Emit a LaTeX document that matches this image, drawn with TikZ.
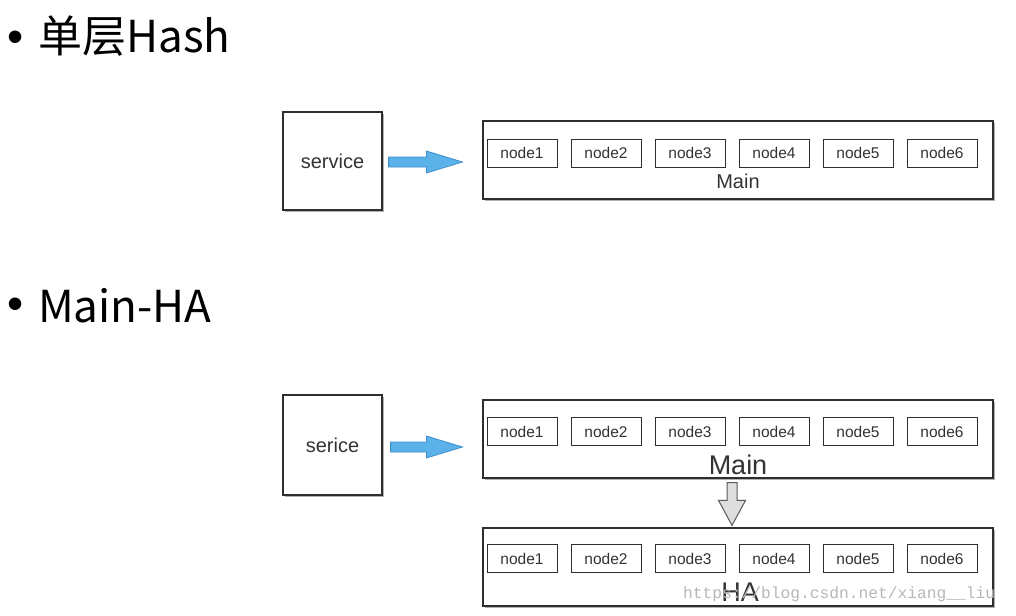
\documentclass[tikz,border=0pt]{standalone}
\usepackage{fontspec}
\setmainfont{Liberation Sans}
\newfontfamily\cjk{Noto Sans CJK SC}
\newfontfamily\wmfont{Liberation Mono}
\usetikzlibrary{calc,shadows}
\definecolor{txt}{HTML}{333333}
\definecolor{edge}{HTML}{2E2E2E}
\definecolor{arrblue}{HTML}{5AB2E8}
\definecolor{arrblueline}{HTML}{3D8FCF}
\begin{document}
\begin{tikzpicture}[x=1pt,y=-1pt,
  box/.style={draw=edge,line width=1.2pt,fill=white,inner sep=0pt,
    drop shadow={shadow xshift=1.5pt,shadow yshift=-2pt,fill=black,opacity=0.3}},
  nodebox/.style={draw=edge,line width=1pt,fill=white,inner sep=0pt,
    minimum width=70pt,minimum height=28pt,text=txt,
    font=\fontsize{15.5}{16}\selectfont},
  header/.style={inner sep=0pt,anchor=base west,text=black,
    font=\cjk\fontsize{44}{50}\selectfont},
  bul/.style={inner sep=0pt,text=black,font=\fontsize{46}{46}\selectfont},
  blockarr/.style={fill=arrblue,draw=arrblueline,line width=0.8pt,line join=miter},
  grayarr/.style={fill=black!13,draw=black!65,line width=1pt,line join=miter}]
\useasboundingbox[fill=white] (0,0) rectangle (1016,615);

% headers
\node[bul] (b1) at (15.5,42) {•};
\node[header] (h1) at (38,53) {单层Hash};
\node[bul] (b2) at (15.5,309) {•};
\node[header] (h2) at (38,322) {Main-HA};

% ===== top section =====
\node[box,minimum width=99pt,minimum height=98pt,text=txt,
  font=\fontsize{20}{22}\selectfont] (svc) at (332.5,161) {service};
\node[box,minimum width=510pt,minimum height=78pt] (main) at (738,160) {};
\foreach \k in {1,...,6}{
  \node[nodebox] (m\k) at ({522+84*(\k-1)},153) {node\k};
}
\node[inner sep=0pt,text=txt,font=\fontsize{20}{22}\selectfont] (mainlbl) at (738,181) {Main};

\coordinate (as) at ($(svc.east)+(6,1)$);
\coordinate (at) at ($(main.west)+(-20,2)$);
\draw[blockarr] ($(as)+(0,-5)$) -- ($(at)+(-36,-5)$) -- ($(at)+(-36,-11)$) -- (at)
  -- ($(at)+(-36,11)$) -- ($(at)+(-36,5)$) -- ($(as)+(0,5)$) -- cycle;

% ===== bottom section =====
\node[box,minimum width=99pt,minimum height=100pt,text=txt,
  font=\fontsize{20}{22}\selectfont] (svc2) at (332.5,445) {serice};
\node[box,minimum width=510pt,minimum height=78pt] (main2) at (738,439) {};
\foreach \k in {1,...,6}{
  \node[nodebox] (n\k) at ({522+84*(\k-1)},431.5) {node\k};
}
\node[inner sep=0pt,text=txt,font=\fontsize{27}{28}\selectfont] (main2lbl) at (738,465) {Main};

\node[box,minimum width=510pt,minimum height=78pt] (ha) at (738,567) {};
\foreach \k in {1,...,6}{
  \node[nodebox] (p\k) at ({522+84*(\k-1)},558.5) {node\k};
}
\node[inner sep=0pt,text=txt,font=\fontsize{27}{28}\selectfont] (halbl) at (740,592) {HA};

\coordinate (bs) at ($(svc2.east)+(8,2)$);
\coordinate (bt) at ($(main2.west)+(-20,8)$);
\draw[blockarr] ($(bs)+(0,-5)$) -- ($(bt)+(-36,-5)$) -- ($(bt)+(-36,-11)$) -- (bt)
  -- ($(bt)+(-36,11)$) -- ($(bt)+(-36,5)$) -- ($(bs)+(0,5)$) -- cycle;

\coordinate (ds) at ($(main2.south)+(-6,4)$);
\coordinate (dt) at ($(ha.north)+(-6,-2)$);
\draw[grayarr] ($(ds)+(-5,0)$) -- ($(dt)+(-5,-25)$) -- ($(dt)+(-13.5,-25)$) -- (dt)
  -- ($(dt)+(13.5,-25)$) -- ($(dt)+(5,-25)$) -- ($(ds)+(5,0)$) -- cycle;

% watermark
\node[inner sep=0pt,anchor=base west,text=black!28,
  font=\wmfont\fontsize{16.25}{17}\selectfont] (wm) at (683,598) {https://blog.csdn.net/xiang\_\_liu};
\end{tikzpicture}
\end{document}
